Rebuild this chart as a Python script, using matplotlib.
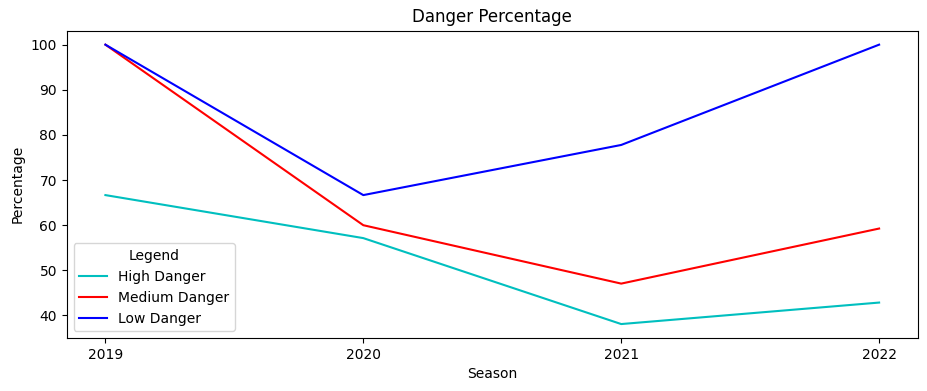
import matplotlib
matplotlib.use('Agg')
import matplotlib.pyplot as plt

seasons = [2019, 2020, 2021, 2022]
high_danger = [66.67, 57.14, 38.10, 42.86]
medium_danger = [100.0, 60.0, 47.06, 59.26]
low_danger = [100.0, 66.67, 77.78, 100.0]

fig, ax = plt.subplots(figsize=(9.28, 3.91), dpi=100)
fig.subplots_adjust(left=0.0719, right=0.989, top=0.9215, bottom=0.1355)

ax.plot(seasons, high_danger, c='c', label='High Danger')
ax.plot(seasons, medium_danger, c='r', label='Medium Danger')
ax.plot(seasons, low_danger, c='b', label='Low Danger')

ax.set_xticks(seasons)
ax.set_title('Danger Percentage')
ax.set_xlabel('Season')
ax.set_ylabel('Percentage')
ax.legend(title='Legend', loc='lower left')

fig.savefig('out.png')
